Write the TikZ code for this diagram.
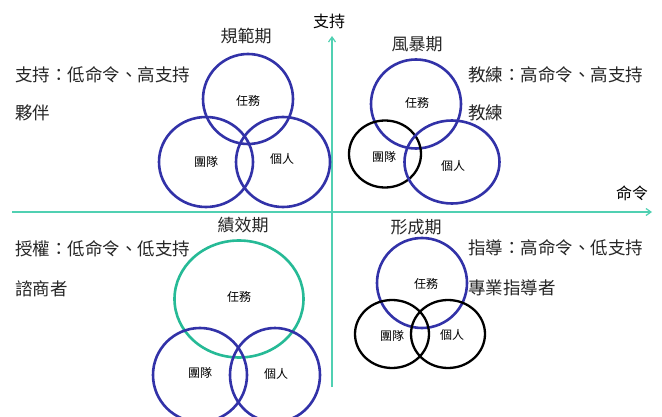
\documentclass[tikz,border=0pt]{standalone}
\usepackage{fontspec}
\newfontfamily\cjk{Noto Sans CJK TC}
\usetikzlibrary{shapes.geometric,arrows.meta}
\definecolor{axisc}{RGB}{80,208,178}
\definecolor{bluec}{RGB}{50,50,168}
\definecolor{greenc}{RGB}{38,186,150}
\begin{document}
\begin{tikzpicture}[x=1pt,y=-1pt,
  every node/.style={inner sep=0pt,font=\cjk},
  ring/.style={draw,ellipse,line width=2.6pt},
  bluering/.style={ring,draw=bluec},
  blackring/.style={ring,draw=black,line width=2.3pt},
  greenring/.style={ring,draw=greenc},
  lbl/.style={font=\cjk\fontsize{12}{12}\selectfont},
  head/.style={font=\cjk\fontsize{17}{17}\selectfont,text=black!85},
  desc/.style={font=\cjk\fontsize{17.5}{17.5}\selectfont,anchor=west,text=black!85},
  axis/.style={draw=axisc,line width=1.2pt,-{Straight Barb[length=5pt,width=7pt]}}]
\useasboundingbox (0,0) rectangle (662,417);
\fill[white] (0,0) rectangle (662,417);
% axes
\coordinate (xs) at (12,212);
\coordinate (xe) at (652,212);
\coordinate (ys) at (332,387);
\coordinate (ye) at (332,36);
\draw[axis] (xs) -- (xe);
\draw[axis] (ys) -- (ye);
\node[font=\cjk\fontsize{16}{16}\selectfont] (support) at (329,21) {支持};
\node[font=\cjk\fontsize{16}{16}\selectfont] (command) at (632,193) {命令};
% quadrant headings
\node[head] (h1) at (246,36) {規範期};
\node[head] (h2) at (417,44) {風暴期};
\node[head] (h3) at (243,225) {績效期};
\node[head] (h4) at (416,227) {形成期};
% descriptions
\node[desc] (d1a) at (15,75) {支持：低命令、高支持};
\node[desc] (d1b) at (15,113) {夥伴};
\node[desc] (d2a) at (468,75) {教練：高命令、高支持};
\node[desc] (d2b) at (468,113) {教練};
\node[desc] (d3a) at (15,249) {授權：低命令、低支持};
\node[desc] (d3b) at (15,289) {諮商者};
\node[desc] (d4a) at (468,248) {指導：高命令、低支持};
\node[desc] (d4b) at (468,288) {專業指導者};
% top-left
\node[bluering,minimum width=90pt,minimum height=90pt] (q1t) at (248,99) {};
\node[bluering,minimum width=94pt,minimum height=90pt] (q1g) at (206,162) {};
\node[bluering,minimum width=94pt,minimum height=90pt] (q1p) at (283,162) {};
\node[lbl] at (248,101) {任務};
\node[lbl] at (206,162) {團隊};
\node[lbl] at (282,159) {個人};
% top-right
\node[bluering,minimum width=90pt,minimum height=89pt] (q2t) at (416,104) {};
\node[blackring,minimum width=72pt,minimum height=67pt] (q2g) at (385,154) {};
\node[bluering,minimum width=95pt,minimum height=83pt] (q2p) at (452,162) {};
\node[lbl] at (417,103) {任務};
\node[lbl] at (384,157) {團隊};
\node[lbl] at (453,166) {個人};
% bottom-left
\node[greenring,minimum width=129pt,minimum height=117pt] (q3t) at (239,299) {};
\node[bluering,minimum width=94pt,minimum height=94pt] (q3g) at (200,375) {};
\node[bluering,minimum width=90pt,minimum height=94pt] (q3p) at (275,375) {};
\node[lbl] at (239,297) {任務};
\node[lbl] at (200,373) {團隊};
\node[lbl] at (276,374) {個人};
% bottom-right
\node[bluering,minimum width=90pt,minimum height=90pt] (q4t) at (422,283) {};
\node[blackring,minimum width=74pt,minimum height=68pt] (q4g) at (392,334) {};
\node[blackring,minimum width=74pt,minimum height=68pt] (q4p) at (448,334) {};
\node[lbl] at (426,284) {任務};
\node[lbl] at (392,336) {團隊};
\node[lbl] at (452,335) {個人};
\end{tikzpicture}
\end{document}
